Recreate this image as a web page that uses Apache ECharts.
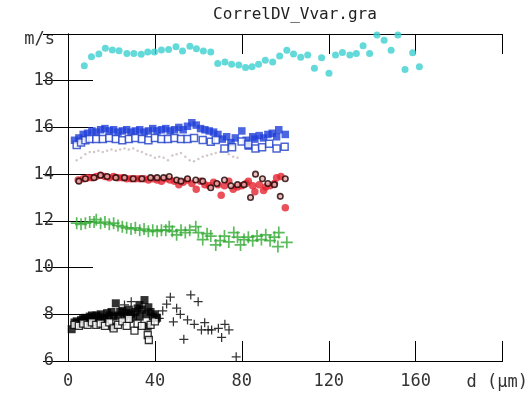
<!DOCTYPE html>
<html><head><meta charset="utf-8">
<script src="https://cdn.jsdelivr.net/npm/echarts@6/dist/echarts.min.js"></script>
<style>html,body{margin:0;padding:0;background:#fff}#c{width:531px;height:396px}</style>
</head><body><div id="c"></div>
<script>
const titleText = 'CorrelDV_Vvar.gra';
const xTicks = [0, 40, 80, 120, 160];
const yTicks = [6, 8, 10, 12, 14, 16, 18];

const cyanX = [7.5,10.8,14.2,17.2,20.4,23.5,27.1,30.3,33.7,36.7,39.8,43,46.3,49.7,52.7,56.1,59.1,62.3,65.7,68.9,72.2,75.3,78.6,81.7,84.7,87.7,90.8,94.2,97.4,100.7,103.8,107.1,110.3,113.4,116.7,120.1,123.1,126.3,129.7,132.7,135.8,138.8,142.2,145.5,148.7,151.8,155.1,158.6,161.7];
const cyanY = [18.64,19.03,19.14,19.39,19.31,19.28,19.17,19.17,19.13,19.23,19.23,19.31,19.34,19.45,19.27,19.48,19.37,19.27,19.23,18.74,18.80,18.71,18.67,18.57,18.6,18.71,18.88,18.80,19.06,19.30,19.14,19.00,19.10,18.53,18.98,18.32,19.10,19.21,19.10,19.17,19.50,19.17,19.96,19.73,19.30,19.96,18.48,19.20,18.6];

const blueFillX = [3,5,7,9,11,13,15,17,19,21,23,25,27,29,31,33,35,37,39,41,43,45,47,49,51,53,55,57,59,61,63,65,67,69,71,73,75,77,80,82,83,85,86,88,90,92,94,96,97,100];
const blueFillY = [15.45,15.55,15.7,15.75,15.85,15.8,15.9,15.95,15.85,15.9,15.8,15.85,15.9,15.8,15.85,15.9,15.8,15.85,15.95,15.85,15.9,15.95,15.85,15.9,16.0,15.9,16.05,16.2,16.1,15.95,15.9,15.85,15.8,15.7,15.5,15.6,15.35,15.55,15.85,15.45,15.2,15.6,15.5,15.65,15.55,15.7,15.75,15.6,15.9,15.7];

const blueOpenX = [4,6,8,10,13,16,19,22,25,28,31,34,37,40,43,46,49,52,55,58,62,65.7,68,72,75.5,79.9,83,86.3,89.3,92.6,96,99.7];
const blueOpenY = [15.25,15.35,15.45,15.5,15.5,15.5,15.55,15.5,15.45,15.5,15.55,15.5,15.45,15.55,15.5,15.5,15.55,15.5,15.5,15.55,15.46,15.39,15.46,15.1,15.15,15.4,15.27,15.1,15.15,15.3,15.1,15.17];

const grayX = [4,6,8,10,12,14,16,18,20,22,24,26,28,30,32,34,36,38,40,42,44,46,48,50,52,54,56,58,60,62,64,66,68,70,72,74,76,78];
const grayY = [14.6,14.7,14.85,14.95,14.95,15.0,14.95,15.0,15.05,15.0,15.05,15.1,15.05,15.1,15.0,14.95,14.85,14.8,14.7,14.75,14.7,14.6,14.8,14.85,14.9,14.75,14.6,14.55,14.65,14.75,14.8,14.85,14.9,14.95,15.0,14.85,14.75,14.7];

const redX = [4.7,7,9,11,13,15,17,19,21,23,25,27,29,31,33,35,37,39,41,43,45,47,49,51,53,55,57,59,61,63,65,67,69,70.5,72,74,76,78,80,82,83,85,86,88,90,91,93,95,96,98,100];
const redY = [13.75,13.8,13.85,13.85,13.9,13.95,13.9,13.85,13.9,13.85,13.85,13.8,13.8,13.8,13.8,13.8,13.75,13.8,13.75,13.7,13.8,13.75,13.7,13.55,13.65,13.75,13.6,13.35,13.7,13.55,13.5,13.65,13.55,13.1,13.5,13.7,13.35,13.45,13.5,13.6,13.7,13.5,13.25,13.55,13.3,13.45,13.5,13.6,13.85,13.9,12.56];

const ringX = [5,8,12,15,18,22,26,30,34,38,41,44,46.6,50,52,55,58.8,62,65.7,68.5,72,75,78,81,84,86.3,89.5,92,95,97.7,100];
const ringY = [13.7,13.8,13.85,13.95,13.9,13.85,13.85,13.8,13.8,13.85,13.85,13.85,13.9,13.75,13.7,13.8,13.75,13.7,13.42,13.6,13.75,13.5,13.55,13.55,13.0,14.0,13.8,13.6,13.55,13.05,13.8];

const greenX = [4,6,8,10,12,13,15,17,19,21,23,25,27,29,31,33,35,37,39,41,43,45,46.6,48,50,52,54,56,58.8,60,62,64,65.7,68,70,72,74,76.3,78,79.4,81,83,85,87,89,91,93,95,97,96.6,100.7];
const greenY = [11.9,11.85,11.9,11.95,11.95,12.05,11.9,11.95,11.85,11.9,11.8,11.75,11.7,11.65,11.7,11.6,11.65,11.55,11.6,11.55,11.6,11.6,11.75,11.55,11.4,11.6,11.5,11.6,11.75,11.5,11.2,11.45,11.35,10.97,11.15,11.35,11.1,11.5,11.3,10.97,11.2,11.3,11.15,11.35,11.2,11.4,11.15,11.3,11.5,10.9,11.08];

const blackFillX = [1.7,3,4,5,6,7,8,9,10,11,12,13,14,15,16,17,18,19,20,20.7,21,22,23,24,25,26,27,28,29,30,31,32,32.9,33,34,35.2,36,36.7,37,38,39,40,41];
const blackFillY = [7.36,7.65,7.7,7.6,7.75,7.8,7.85,7.7,7.9,7.95,7.8,7.95,7.9,8.0,7.8,7.85,8.05,7.95,8.1,7.47,7.9,8.47,7.95,8.1,8.15,7.9,8.05,8.2,8.0,7.85,8.1,8.25,8.4,7.9,8.2,8.61,8.0,7.47,8.3,8.1,7.9,8.0,7.85];

const blackOpenX = [3,5,7,9,11,13,15,17,19,21,23,25,27,28,30.6,32,34,36.7,37.2,38,40];
const blackOpenY = [7.55,7.5,7.6,7.55,7.65,7.55,7.6,7.5,7.65,7.4,7.55,7.7,7.5,7.8,7.3,7.6,7.5,7.11,6.9,7.55,7.7];

const blackPlusX = [26,29.1,42,43.6,45.4,47.1,48.5,50,51.7,53.3,55,56.5,58.1,59.9,61.4,62.9,64.5,66.1,69.2,70.7,72.2,74.1,77.4];
const blackPlusY = [8.4,8.54,7.83,8.15,8.44,8.73,7.68,8.26,8.0,6.93,7.76,8.83,7.57,8.54,7.33,7.64,7.33,7.33,7.4,7.01,7.57,7.33,6.18];

const zip = (a, b) => a.map((v, i) => [v, b[i]]);
const PLUS = 'path://M4.3,0H5.7V4.3H10V5.7H5.7V10H4.3V5.7H0V4.3H4.3Z';
const FONT = 'DejaVu Sans Mono';

function sc(name, x, y, symbol, size, style) {
  return { type: 'scatter', name, data: zip(x, y), symbol, symbolSize: size, itemStyle: style, silent: true, animation: false };
}

const chart = echarts.init(document.getElementById('c'), null, { renderer: 'canvas' });
const axisLineStyle = { color: '#000', width: 1 };
chart.setOption({
  animation: false,
  title: { text: titleText, left: 290, textAlign: 'center', top: 2,
    textStyle: { fontFamily: FONT, fontSize: 16, fontWeight: 'normal', color: '#222' } },
  grid: { left: 68, right: 25, top: 34, bottom: 35 },
  xAxis: [
    { type: 'value', min: 0, max: 200, interval: 40, position: 'bottom',
      axisLine: { show: true, lineStyle: axisLineStyle },
      axisTick: { show: true, inside: true, length: 20, lineStyle: axisLineStyle },
      splitLine: { show: false },
      axisLabel: { margin: 12, fontFamily: FONT, fontSize: 17, color: '#333',
        formatter: v => xTicks.includes(v) ? String(v) : '' },
      name: 'd (µm)', nameLocation: 'end', nameGap: -36,
      nameTextStyle: { fontFamily: FONT, fontSize: 17, color: '#333', align: 'left', verticalAlign: 'top', padding: [13, 0, 0, 0] } },
    { type: 'value', min: 0, max: 200, interval: 40, position: 'top',
      axisLine: { show: true, lineStyle: axisLineStyle },
      axisTick: { show: true, inside: true, length: 20, lineStyle: axisLineStyle },
      splitLine: { show: false }, axisLabel: { show: false } }
  ],
  yAxis: [
    { type: 'value', min: 6, max: 20, interval: 2, position: 'left',
      axisLine: { show: true, lineStyle: axisLineStyle },
      axisTick: { show: true, inside: true, length: 25, lineStyle: axisLineStyle },
      splitLine: { show: false },
      axisLabel: { margin: 14, fontFamily: FONT, fontSize: 17, color: '#333',
        formatter: v => yTicks.includes(v) ? String(v) : '' },
      name: 'm/s', nameLocation: 'end', nameGap: -6,
      nameTextStyle: { fontFamily: FONT, fontSize: 17, color: '#333', align: 'right', verticalAlign: 'middle', padding: [0, 13, 0, 0] } },
    { type: 'value', min: 6, max: 20, interval: 2, position: 'right',
      axisLine: { show: true, lineStyle: axisLineStyle },
      axisTick: { show: true, inside: true, length: 25, lineStyle: axisLineStyle },
      splitLine: { show: false }, axisLabel: { show: false } }
  ],
  series: [
    sc('gray', grayX, grayY, 'circle', 2.5, { color: '#c9b9bb' }),
    sc('cyan', cyanX, cyanY, 'circle', 7, { color: '#3ccfcf' }),
    sc('blueFill', blueFillX, blueFillY, 'rect', 7.5, { color: '#1f3ed8' }),
    sc('blueOpen', blueOpenX, blueOpenY, 'rect', 7, { color: '#ffffff', borderColor: '#1f3ec8', borderWidth: 1.5 }),
    sc('red', redX, redY, 'circle', 7.5, { color: '#e3242f' }),
    sc('ring', ringX, ringY, 'circle', 5.5, { color: '#e8b0b0', borderColor: '#200000', borderWidth: 1.6 }),
    sc('green', greenX, greenY, PLUS, 12, { color: '#33aa33' }),
    sc('blackFill', blackFillX, blackFillY, 'rect', 8, { color: '#000000' }),
    sc('blackOpen', blackOpenX, blackOpenY, 'rect', 7, { color: '#ffffff', borderColor: '#000', borderWidth: 1.3 }),
    sc('blackPlus', blackPlusX, blackPlusY, PLUS, 9, { color: '#000000' })
  ]
});
</script></body></html>
